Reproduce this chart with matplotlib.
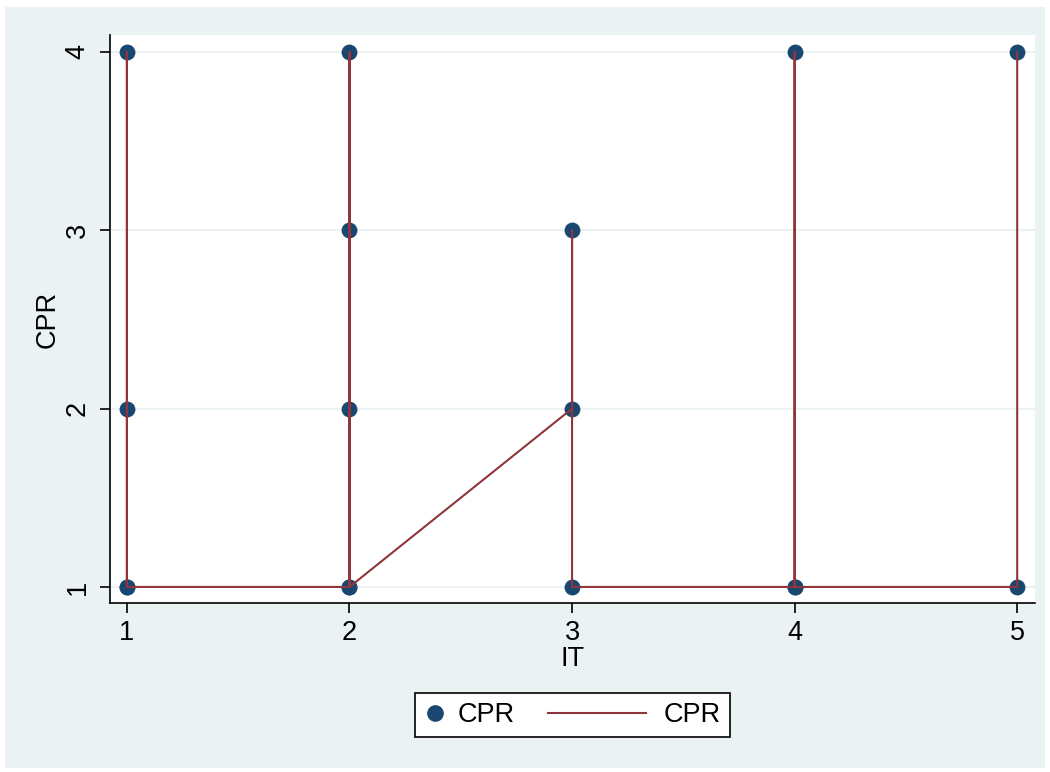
import matplotlib.pyplot as plt
from matplotlib.patches import Rectangle
from matplotlib.lines import Line2D
from matplotlib.legend_handler import HandlerLine2D

# data, in the order the line connects it
it = [1, 1, 1, 1, 2, 2, 2, 2, 2, 3, 3, 3, 4, 4, 4, 5, 5]
cpr = [1, 4, 2, 1, 1, 4, 3, 2, 1, 2, 3, 1, 1, 4, 1, 1, 4]
xticks = [1, 2, 3, 4, 5]
yticks = [1, 2, 3, 4]

navy = '#1a476f'
maroon = '#90353b'
bg = '#eaf2f3'
fs = 19.5

plt.rcParams['font.family'] = ['Liberation Sans', 'DejaVu Sans']


# line key reaching to the left of its small handle box (Stata style key)
class LongLineHandler(HandlerLine2D):
    def create_artists(self, legend, orig_handle, xdescent, ydescent,
                       width, height, fontsize, trans):
        y = height / 2 - ydescent
        ln = Line2D([width - 3.8 * fontsize, width - 0.2 * fontsize], [y, y])
        self.update_prop(ln, orig_handle, legend)
        ln.set_marker('')
        ln.set_transform(trans)
        return [ln]


fig = plt.figure(figsize=(10.5, 7.72), dpi=100)
fig.patch.set_facecolor('white')
fig.patches.append(Rectangle((5 / 1050, 1 - 768 / 772), 1040 / 1050, 761 / 772,
                             transform=fig.transFigure, facecolor=bg,
                             edgecolor='none', zorder=-1))

ax = fig.add_axes([110 / 1050, 1 - 603 / 772, 925 / 1050, 568 / 772])
ax.set_zorder(2)
ax.set_facecolor('white')

pts = ax.scatter(it, cpr, s=130, color=navy, zorder=3, label='CPR', linewidths=0)
line, = ax.plot(it, cpr, color=maroon, lw=1.5, zorder=4, label='CPR')

ax.set_xlim(0.924, 5.08)
ax.set_ylim(0.91, 4.095)
ax.set_xticks(xticks)
ax.set_yticks(yticks)
ax.grid(axis='y', color=bg, lw=1.5, zorder=1)
ax.grid(axis='x', visible=False)
ax.set_axisbelow(True)

for s in ['top', 'right']:
    ax.spines[s].set_visible(False)
for s in ['left', 'bottom']:
    ax.spines[s].set_linewidth(1.2)

ax.tick_params(axis='both', length=7, width=1.2, labelsize=fs, direction='out')
plt.setp(ax.get_yticklabels(), rotation=90, va='center')
ax.tick_params(axis='y', pad=7)
ax.tick_params(axis='x', pad=5)

ax.set_xlabel('IT', fontsize=fs, labelpad=0)
ax.set_ylabel('CPR', fontsize=fs, labelpad=3)

dot = Line2D([], [], marker='o', ls='none', color=navy, markersize=11)
leg = fig.legend([dot, line], ['CPR', 'CPR'], loc='center',
                 bbox_to_anchor=(572.5 / 1050, 1 - 715 / 772),
                 ncol=2, fontsize=fs, frameon=True, fancybox=False,
                 framealpha=1, facecolor='white', edgecolor='black',
                 handlelength=0.75, columnspacing=4.3, handletextpad=0.45,
                 borderpad=0.35, borderaxespad=0,
                 handler_map={line: LongLineHandler()})
leg.get_frame().set_linewidth(1.2)

fig.savefig('out.png', dpi=100, facecolor='white')
